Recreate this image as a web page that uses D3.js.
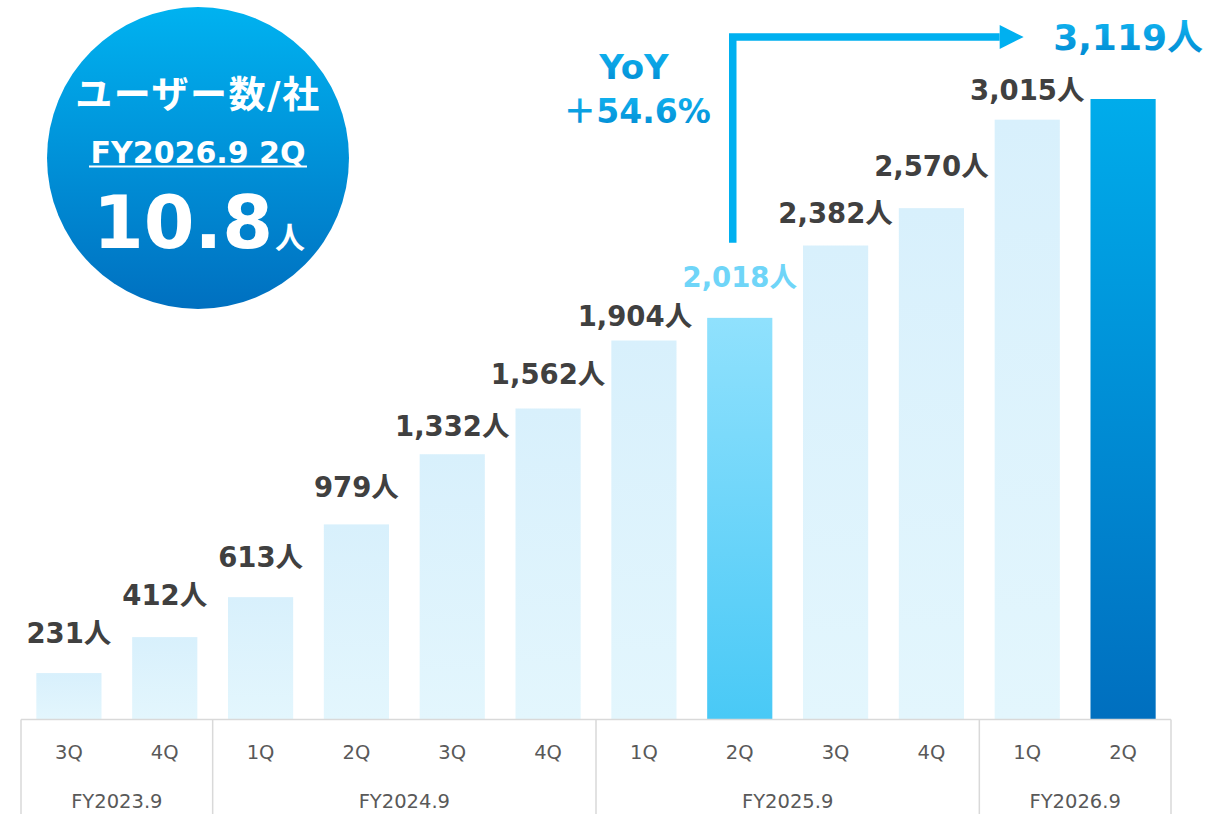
<!DOCTYPE html>
<html>
<head>
<meta charset="utf-8">
<script src="https://cdn.jsdelivr.net/npm/d3@7"></script>
<style>
  html, body { margin: 0; padding: 0; background: #ffffff; }
  svg { display: block; }
  text { font-family: "DejaVu Sans", "Noto Sans CJK JP", sans-serif; }
</style>
</head>
<body>
<svg id="chart" width="1228" height="814"></svg>
<script>
// Users per quarter (人)
const quarters = ["3Q", "4Q", "1Q", "2Q", "3Q", "4Q", "1Q", "2Q", "3Q", "4Q", "1Q", "2Q"];
const fiscalYears = ["FY2023.9", "FY2023.9", "FY2024.9", "FY2024.9", "FY2024.9", "FY2024.9",
                     "FY2025.9", "FY2025.9", "FY2025.9", "FY2025.9", "FY2026.9", "FY2026.9"];
const users = [231, 412, 613, 979, 1332, 1562, 1904, 2018, 2382, 2570, 3015, 3119];
const yearGroups = ["FY2023.9", "FY2024.9", "FY2025.9", "FY2026.9"];

// Headline figures
const yoyLabel = "YoY";
const yoyValue = "＋54.6%";
const badgeTitle = "ユーザー数/社";
const badgePeriod = "FY2026.9 2Q";
const badgeValue = "10.8";
const unit = "人";

const svg = d3.select("#chart");
const W = 1228, H = 814;
const baseY = 719;

const keys = users.map((d, i) => i);
const x = d3.scaleBand().domain(keys).range([21, 1171]).paddingInner(0.32).paddingOuter(0.16);
const y = d3.scaleLinear().domain([0, d3.max(users)]).range([baseY, 99]);

// ---- gradients ----
const defs = svg.append("defs");
function vGrad(id, stops) {
  const g = defs.append("linearGradient").attr("id", id)
    .attr("x1", 0).attr("y1", 0).attr("x2", 0).attr("y2", 1);
  stops.forEach(([o, c]) => g.append("stop").attr("offset", o).attr("stop-color", c));
}
vGrad("gLight", [[0, "#d8f0fc"], [1, "#e3f6fd"]]);
vGrad("gPrev", [[0, "#90e1fd"], [1, "#49c9f6"]]);
vGrad("gLast", [[0, "#00aceb"], [1, "#006fbf"]]);
vGrad("gBadge", [[0, "#00b2f0"], [1, "#0070c0"]]);
vGrad("gText", [[0, "#12b6f2"], [1, "#0089d1"]]);

const last = users.length - 1;
const prevYear = last - 4;
const fillFor = i => i === last ? "url(#gLast)" : i === prevYear ? "url(#gPrev)" : "url(#gLight)";

// ---- bars ----
svg.append("g").selectAll("rect").data(users).join("rect")
  .attr("x", (d, i) => x(i))
  .attr("y", d => y(d))
  .attr("width", x.bandwidth())
  .attr("height", d => baseY - y(d))
  .attr("fill", (d, i) => fillFor(i));

// ---- value labels ----
const fmt = d3.format(",");
const lift = [30, 32, 30, 27, 18, 25, 15, 31, 23, 32, 20];
const shiftX = [0, 0, 0, 0, 0, 0, -9, 0, 0, 0, 0];
svg.append("g").selectAll("text").data(users.slice(0, last)).join("text")
  .attr("x", (d, i) => x(i) + x.bandwidth() / 2 + shiftX[i])
  .attr("y", (d, i) => y(d) - lift[i])
  .attr("text-anchor", "middle")
  .attr("font-size", 27.5)
  .attr("font-weight", "bold")
  .attr("fill", (d, i) => i === prevYear ? "#6fd5f8" : "#404040")
  .text(d => fmt(d) + unit);

// latest quarter, emphasised at top
svg.append("text")
  .attr("x", x(last) + x.bandwidth() / 2 + 5)
  .attr("y", y(users[last]) - 49)
  .attr("text-anchor", "middle")
  .attr("font-size", 36)
  .attr("font-weight", "bold")
  .attr("fill", "url(#gText)")
  .text(fmt(users[last]) + unit);

// ---- YoY arrow ----
const arrowX = x(prevYear) + x.bandwidth() / 2 - 7;
const arrowY = 37;
svg.append("path")
  .attr("d", `M${arrowX},${y(users[prevYear]) - 75} V${arrowY} H${x(last - 1) + 5}`)
  .attr("fill", "none")
  .attr("stroke", "#00b0f0")
  .attr("stroke-width", 7.5);
const tipX = x(last - 1) + 29;
svg.append("path")
  .attr("d", `M${tipX - 24},${arrowY - 12} L${tipX},${arrowY} L${tipX - 24},${arrowY + 12} Z`)
  .attr("fill", "#00b0f0");

const yoy = svg.append("g").attr("font-weight", "bold").attr("fill", "url(#gText)").attr("text-anchor", "middle");
yoy.append("text").attr("x", 634).attr("y", 79).attr("font-size", 34).text(yoyLabel);
yoy.append("text").attr("x", 637).attr("y", 123).attr("font-size", 33).text(yoyValue);

// ---- badge ----
const badge = svg.append("g");
badge.append("circle").attr("cx", 198).attr("cy", 158).attr("r", 151).attr("fill", "url(#gBadge)");
badge.append("text").attr("x", 198).attr("y", 108)
  .attr("text-anchor", "middle").attr("fill", "#fff").attr("font-weight", "bold")
  .attr("font-size", 37).attr("font-family", "'Noto Sans CJK JP', sans-serif")
  .attr("letter-spacing", 1.5)
  .text(badgeTitle);
badge.append("text").attr("x", 198).attr("y", 163)
  .attr("text-anchor", "middle").attr("fill", "#fff").attr("font-weight", "bold")
  .attr("font-size", 30)
  .text(badgePeriod);
badge.append("line").attr("x1", 89).attr("x2", 307).attr("y1", 166.5).attr("y2", 166.5)
  .attr("stroke", "#fff").attr("stroke-width", 2);
const big = badge.append("text").attr("x", 199).attr("y", 248)
  .attr("text-anchor", "middle").attr("fill", "#fff").attr("font-weight", "bold");
big.append("tspan").attr("font-size", 73).text(badgeValue);
big.append("tspan").attr("font-size", 30).attr("dx", 2).text(unit);

// ---- category axis ----
const axis = svg.append("g");
const half = x.step() * x.paddingInner() / 2;
const left = x(0) - half, right = x(last) + x.bandwidth() + half;
axis.append("line").attr("x1", left).attr("x2", right).attr("y1", 719.5).attr("y2", 719.5)
  .attr("stroke", "#d9d9d9").attr("stroke-width", 1.5);

// group boundaries
const bounds = [left];
yearGroups.forEach(g => {
  const idx = fiscalYears.lastIndexOf(g);
  bounds.push(x(idx) + x.bandwidth() + half);
});
axis.selectAll("line.sep").data(bounds).join("line").attr("class", "sep")
  .attr("x1", d => d).attr("x2", d => d).attr("y1", 719.5).attr("y2", H)
  .attr("stroke", "#d9d9d9").attr("stroke-width", 1.5);

axis.selectAll("text.q").data(quarters).join("text").attr("class", "q")
  .attr("x", (d, i) => x(i) + x.bandwidth() / 2)
  .attr("y", 759)
  .attr("text-anchor", "middle").attr("font-size", 19.5).attr("fill", "#595959")
  .text(d => d);

axis.selectAll("text.fy").data(yearGroups).join("text").attr("class", "fy")
  .attr("x", g => {
    const a = fiscalYears.indexOf(g), b = fiscalYears.lastIndexOf(g);
    return (x(a) + x(b) + x.bandwidth()) / 2;
  })
  .attr("y", 808)
  .attr("text-anchor", "middle").attr("font-size", 19.5).attr("fill", "#595959")
  .text(d => d);
</script>
</body>
</html>
